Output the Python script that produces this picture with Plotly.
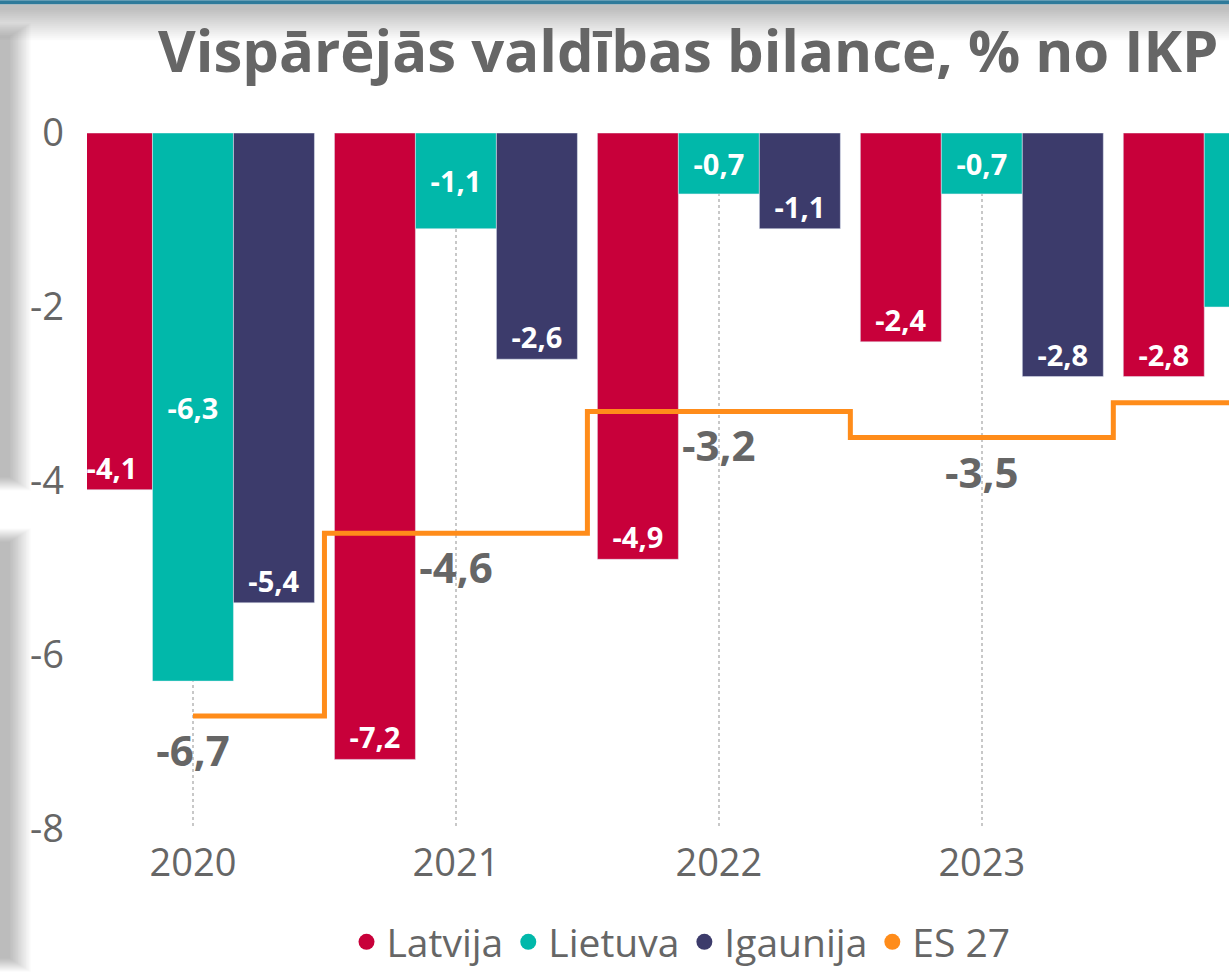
import plotly.graph_objects as go

years = ["2020", "2021", "2022", "2023", "2024"]
latvija = [-4.1, -7.2, -4.9, -2.4, -2.8]
lietuva = [-6.3, -1.1, -0.7, -0.7, -2.0]
igaunija = [-5.4, -2.6, -1.1, -2.8, -1.5]
es27 = [-6.7, -4.6, -3.2, -3.5, -3.1]
y_ticks = [0, -2, -4, -6, -8]

title_text = "Vispārējās valdības bilance, % no IKP"
names = ["Latvija", "Lietuva", "Igaunija", "ES 27"]
colors = ["#C8003A", "#01B8AA", "#3C3B6B", "#FF8C1A"]

W, H = 1229, 974
L, R, T, B = 87, 0, 133, 144
PW, PH = W - L - R, H - T - B


def px_x(p):
    return (p - L) / PW


def px_y(p):
    return (H - B - p) / PH


def fmt(v):
    return f"{v:.1f}".replace(".", ",")


FONT = "Open Sans"
GRAY = "#666666"

fig = go.Figure()

series = [(latvija, "end"), (lietuva, "middle"), (igaunija, "end")]
for (vals, anchor), name, col in zip(series, names[:3], colors[:3]):
    fig.add_trace(go.Bar(
        x=years, y=vals, name=name, marker_color=col, showlegend=False,
        text=[fmt(v) for v in vals], textposition="inside",
        insidetextanchor=anchor, textangle=0,
        textfont=dict(family=FONT, size=29, color="white", weight="bold"),
        hoverinfo="skip",
    ))

fig.add_trace(go.Scatter(
    x=years, y=es27, mode="lines", line=dict(color=colors[3], width=5, shape="hvh"),
    showlegend=False, hoverinfo="skip",
))
fig.add_trace(go.Scatter(
    x=years, y=es27, mode="markers+text", marker=dict(size=28, opacity=0),
    text=[fmt(v) for v in es27], textposition="bottom center",
    textfont=dict(family=FONT, size=42, color=GRAY, weight="bold"),
    cliponaxis=False, showlegend=False, hoverinfo="skip",
))

for name, col in zip(names, colors):
    fig.add_trace(go.Scatter(
        x=[None], y=[None], mode="markers", name=name,
        marker=dict(color=col, size=16, symbol="circle"),
    ))

shapes = []
# top blue bar
shapes.append(dict(type="rect", xref="paper", yref="paper",
                   x0=px_x(0), x1=px_x(W), y0=px_y(0), y1=px_y(4),
                   fillcolor="#2E7A9A", line_width=0, layer="above"))
# top shadow gradient
for i in range(16):
    shapes.append(dict(type="rect", xref="paper", yref="paper",
                       x0=px_x(0), x1=px_x(W), y0=px_y(4), y1=px_y(4 + 6 + i * 2),
                       fillcolor="rgba(0,0,0,0.017)", line_width=0, layer="below"))
# left shadow gradient (two segments)
for (ya, yb) in [(22, 492), (528, 974)]:
    for i in range(14):
        shapes.append(dict(type="rect", xref="paper", yref="paper",
                           x0=px_x(0), x1=px_x(10 + i * 1.6),
                           y0=px_y(ya + 14 - i), y1=px_y(yb - 14 + i),
                           fillcolor="rgba(0,0,0,0.018)", line_width=0, layer="below"))

fig.update_layout(
    width=W, height=H,
    margin=dict(l=L, r=R, t=T, b=B),
    paper_bgcolor="white", plot_bgcolor="white",
    barmode="group", bargap=0.076, bargroupgap=0,
    title=dict(text=title_text, x=0.56, xanchor="center", xref="container",
               y=1 - 52 / H, yanchor="middle",
               font=dict(family=FONT, size=58, color=GRAY, weight="bold")),
    font=dict(family=FONT, color=GRAY),
    xaxis=dict(type="category", range=[-0.403, 3.94],
               showgrid=True, griddash="dot", gridcolor="#C8C8C8", gridwidth=1.5,
               showline=False, zeroline=False, ticks="",
               ticklabelstandoff=8,
               tickfont=dict(family=FONT, size=38, color=GRAY)),
    yaxis=dict(range=[-8, 0], showgrid=False, zeroline=False, showline=False,
               tickvals=y_ticks, ticktext=[str(v) for v in y_ticks],
               ticklabelstandoff=22,
               tickfont=dict(family=FONT, size=38, color=GRAY)),
    legend=dict(orientation="h", x=px_x(681), xanchor="center",
                y=px_y(943), yanchor="middle",
                font=dict(family=FONT, size=39, color=GRAY),
                itemsizing="trace", tracegroupgap=0),
    shapes=shapes,
    showlegend=True,
)

fig.write_html("out.html", config={"displayModeBar": False},
               post_script="document.body.style.margin='0';document.body.style.padding='0';")
